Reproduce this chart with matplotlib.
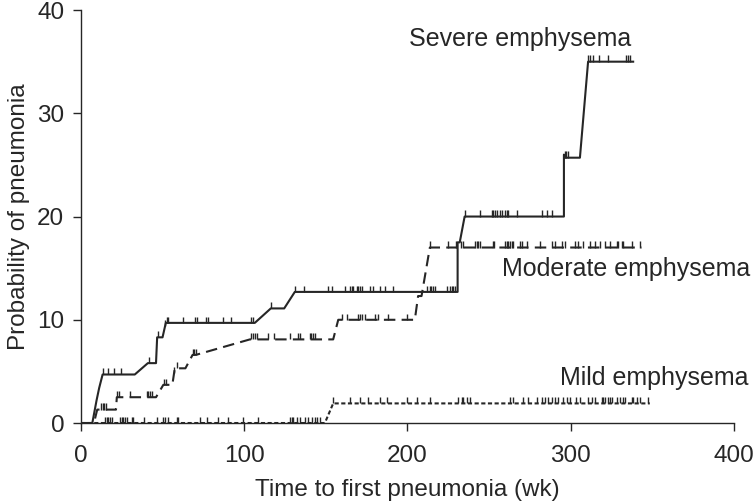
import numpy as np
import matplotlib
matplotlib.use("Agg")
import matplotlib.pyplot as plt

plt.rcParams['font.family'] = ['Liberation Sans', 'DejaVu Sans']

# Kaplan-Meier style curves, vertices (weeks, %)
severe_t = [0, 7, 9.6, 11.2, 13.3, 33, 41, 46, 46.7, 50, 52, 106.5, 116.3, 124.5, 131,
            230.7, 230.7, 232, 235, 295.8, 295.8, 296.5, 305.6, 310.6, 338.2]
severe_p = [0, 0, 2.2, 3.4, 4.7, 4.7, 5.8, 5.8, 8.3, 8.3, 9.7, 9.7, 11.1, 11.1, 12.7,
            12.7, 17.5, 17.5, 20, 20, 26, 25.7, 25.7, 35, 35]
severe_cens = [13.3, 16.7, 20.4, 24.5, 41.6, 47, 51.5, 52.5, 53.5, 62.3, 69.8, 70.8, 76.5,
               78, 87.1, 92.2, 103.9, 105.1, 116.3, 131, 136.5, 151.4, 153.8, 161.7, 164.7,
               165.8, 166.8, 168.8, 169.8, 170.9, 171.9, 177, 179, 183.1, 186.2, 191.2,
               211.7, 213.7, 214.7, 215.7, 216.8, 223.9, 226, 227, 228, 229, 235.1, 244.3,
               251.5, 252.5, 253.5, 254.6, 256.6, 257.6, 259.7, 260.7, 261.7, 266.8, 282.1,
               285.2, 288.2, 296.6, 297.3, 298, 310.6, 311.6, 313.6, 317.3, 322.8, 333.6,
               335.1, 336.5]

moderate_t = [0, 8, 10, 21.5, 22, 46, 50.5, 56, 57.5, 64, 68.4, 70.4, 103.5, 154.5, 157.6,
              204.5, 206.5, 208.6, 213.7, 343.3]
moderate_p = [0, 0, 1.3, 1.3, 2.5, 2.5, 3.7, 3.7, 5.3, 5.3, 6.6, 6.6, 8.1, 8.1, 10,
              10, 12.3, 12.3, 17.0, 17.0]
moderate_cens = [12.1, 13.3, 14.1, 15.3, 22.2, 23.4, 30, 40.2, 41.2, 42.3, 43.3, 50.8, 52,
                 57.1, 58.6, 68.4, 69.2, 70.4, 103.9, 105.1, 106.5, 108, 114.7, 118.2, 128,
                 133.1, 134.1, 140.2, 141.2, 142.2, 143.3, 159.6, 162.7, 169.8, 170.9,
                 171.9, 173.9, 180, 182.1, 188.2, 199.4, 214, 225, 230, 232.5, 233.7,
                 241.3, 242.3, 243.3, 244.3, 252.1, 253.1, 259.6, 260.7, 261.7, 262.7,
                 263.7, 264.7, 268.8, 269.9, 273.3, 281.1, 288.2, 290.3, 294.4, 296.4,
                 302.5, 304.6, 307.6, 311.7, 314.8, 317.8, 320.9, 323.9, 328, 329, 331.1,
                 332.1, 337.2, 342.3]

mild_t = [0, 149.4, 154.5, 348.4]
mild_p = [0, 0, 1.9, 1.9]
mild_cens = [14.7, 15.7, 16.7, 17.7, 18.8, 23.9, 25, 26, 27, 28.1, 31, 32.1, 38.6, 46.4,
             50.4, 51.4, 53.5, 58.6, 59.6, 72.9, 77.3, 84.1, 90.2, 99.4, 108.6, 128, 129,
             130, 132.1, 134.1, 137.2, 139.2, 141.3, 143.3, 144.3, 146.4, 154.5, 164.7,
             170.9, 176, 183.1, 187.2, 199.4, 205.6, 213.7, 231.1, 233.1, 234.1, 236.2,
             238.2, 262.7, 264.7, 270.9, 273.9, 279.1, 282.1, 284.1, 286.2, 288.2, 290.3,
             292.3, 295.3, 297.4, 299.4, 303.5, 305.6, 310.7, 312.7, 314.8, 318.9, 319.9,
             320.9, 322.9, 323.9, 325, 328, 330.1, 332.1, 333.1, 337.2, 338.2, 340.3,
             342.3, 347.4]

labels = ["Severe emphysema", "Moderate emphysema", "Mild emphysema"]
label_xy = [(269, 37.2), (334, 14.9), (351, 4.4)]

ink = '#262626'
fig = plt.figure(figsize=(7.56, 5.03), dpi=100)
ax = fig.add_axes([0.107, 0.159, 0.864, 0.821])

curves = [(severe_t, severe_p, severe_cens, '-'),
          (moderate_t, moderate_p, moderate_cens, (0, (5.5, 3))),
          (mild_t, mild_p, mild_cens, (0, (2, 1.2)))]
for t, p, cens, ls in curves:
    ax.plot(t, p, color=ink, lw=1.5, linestyle=ls, zorder=3)
    # censoring marks sit on the curve
    lev = np.interp(cens, t, p)
    ax.vlines(cens, lev, lev + 0.6, color=ink, lw=1.0, zorder=3)

for txt, (x, y) in zip(labels, label_xy):
    ax.text(x, y, txt, ha='center', va='center', fontsize=18, color=ink)

ax.set_xlim(0, 400)
ax.set_ylim(0, 40)
ax.set_xticks([0, 100, 200, 300, 400])
ax.set_yticks([0, 10, 20, 30, 40])
ax.spines['top'].set_visible(False)
ax.spines['right'].set_visible(False)
for s in ['left', 'bottom']:
    ax.spines[s].set_color(ink)
    ax.spines[s].set_linewidth(1.0)
ax.tick_params(direction='out', length=6, width=1.0, color=ink, labelsize=17.5,
               labelcolor=ink)
ax.tick_params(axis='x', pad=10)
ax.tick_params(axis='y', pad=6)
ax.set_xlabel("Time to first pneumonia (wk)", fontsize=17.5, color=ink, labelpad=8.5)
ax.set_ylabel("Probability of pneumonia", fontsize=17.5, color=ink, labelpad=5)
for sp in ax.spines.values():
    sp.set_clip_on(False)

fig.savefig("out.png", dpi=100)
